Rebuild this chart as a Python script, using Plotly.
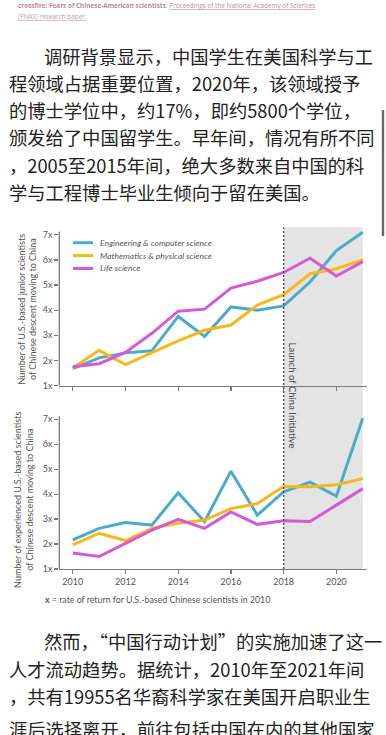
import plotly.graph_objects as go

W, H = 386, 735

years = [2010, 2011, 2012, 2013, 2014, 2015, 2016, 2017, 2018, 2019, 2020, 2021]
series_names = ["Engineering & computer science", "Mathematics & physical science", "Life science"]
series_colors = ["#4BABC9", "#F5B91E", "#D55BD5"]

junior_eng = [1.67, 2.10, 2.30, 2.38, 3.75, 2.95, 4.13, 4.00, 4.17, 5.12, 6.37, 7.10]
junior_math = [1.70, 2.40, 1.83, 2.30, 2.78, 3.20, 3.41, 4.20, 4.62, 5.45, 5.65, 6.00]
junior_life = [1.75, 1.87, 2.32, 3.08, 3.96, 4.04, 4.88, 5.15, 5.50, 6.07, 5.36, 5.93]

exp_eng = [2.17, 2.63, 2.86, 2.76, 4.05, 2.90, 4.92, 3.16, 4.09, 4.48, 3.92, 7.04]
exp_math = [1.97, 2.43, 2.14, 2.63, 2.83, 2.96, 3.42, 3.62, 4.31, 4.30, 4.38, 4.62]
exp_life = [1.64, 1.50, 2.03, 2.56, 2.99, 2.63, 3.29, 2.79, 2.93, 2.90, 3.56, 4.22]

x_tickvals = [2010, 2012, 2014, 2016, 2018, 2020]
y_tickvals = [1, 2, 3, 4, 5, 6, 7]
y_ticktext = ["1x", "2x", "3x", "4x", "5x", "6x", "7x"]

launch_year = 2018
last_year = 2021

para1 = [
    "调研背景显示，中国学生在美国科学与工",
    "程领域占据重要位置，2020年，该领域授予",
    "的博士学位中，约17%，即约5800个学位，",
    "颁发给了中国留学生。早年间，情况有所不同",
    "，2005至2015年间，绝大多数来自中国的科",
    "学与工程博士毕业生倾向于留在美国。",
]
para2 = [
    "然而，“中国行动计划”的实施加速了这一",
    "人才流动趋势。据统计，2010年至2021年间",
    "，共有19955名华裔科学家在美国开启职业生",
    "涯后选择离开，前往包括中国在内的其他国家",
]


def px(x):
    return x / W


def py(y):
    return 1 - y / H


CHART_FONT = "Lato"
CJK_FONT = "Noto Sans CJK SC"

fig = go.Figure()

top_data = [junior_eng, junior_math, junior_life]
bot_data = [exp_eng, exp_math, exp_life]
for name, col, vals in zip(series_names, series_colors, top_data):
    fig.add_trace(go.Scatter(x=years, y=vals, mode="lines", name=name,
                             line=dict(color=col, width=3), xaxis="x", yaxis="y",
                             showlegend=False, hoverinfo="skip"))
for name, col, vals in zip(series_names, series_colors, bot_data):
    fig.add_trace(go.Scatter(x=years, y=vals, mode="lines", name=name,
                             line=dict(color=col, width=3), xaxis="x2", yaxis="y2",
                             showlegend=False, hoverinfo="skip"))

x_dom = [px(59.3), px(366.7)]
x_range = [2009.49, 2021.15]
top_dom = [py(387.7), py(228)]
top_range = [1, 1 + (387.7 - 228) / 25.33]
bot_dom = [py(572.7), py(416.6)]
bot_range = [1, 1 + (572.7 - 416.6) / 25.17]

axis_col = "#7a7a7a"
tick_font = dict(family=CHART_FONT, size=9, color="#555555")

common_x = dict(domain=x_dom, range=x_range, tickvals=x_tickvals, ticks="outside",
                ticklen=4, tickcolor=axis_col, tickwidth=1.2, showline=True,
                linecolor=axis_col, linewidth=1.3, showgrid=False, zeroline=False,
                tickfont=tick_font, fixedrange=True)
common_y = dict(tickvals=y_tickvals, ticktext=y_ticktext, ticks="outside", ticklen=4,
                tickcolor=axis_col, tickwidth=1.2, showline=False, showgrid=False,
                zeroline=False, tickfont=tick_font, fixedrange=True)

fig.update_layout(
    width=W, height=H,
    margin=dict(l=0, r=0, t=0, b=0),
    paper_bgcolor="white", plot_bgcolor="rgba(0,0,0,0)",
    showlegend=False,
    xaxis=dict(anchor="y", showticklabels=False, **common_x),
    yaxis=dict(anchor="x", domain=top_dom, range=top_range, **common_y),
    xaxis2=dict(anchor="y2", showticklabels=True, **common_x),
    yaxis2=dict(anchor="x2", domain=bot_dom, range=bot_range, **common_y),
)

shapes = []
# shaded period after launch
shapes.append(dict(type="rect", xref="x", yref="paper", x0=launch_year, x1=last_year,
                   y0=py(572.7), y1=py(228), fillcolor="#e4e4e4", line=dict(width=0),
                   layer="below"))
# dotted launch line
shapes.append(dict(type="line", xref="x", yref="paper", x0=launch_year, x1=launch_year,
                   y0=py(572.7), y1=py(228), line=dict(color="#555555", width=1.5, dash="2px,2px"),
                   layer="above"))
# y axis lines
shapes.append(dict(type="line", xref="paper", yref="y", x0=px(59.3), x1=px(59.3), y0=1, y1=7.12,
                   line=dict(color=axis_col, width=1.3)))
shapes.append(dict(type="line", xref="paper", yref="y2", x0=px(59.3), x1=px(59.3), y0=1, y1=7.12,
                   line=dict(color=axis_col, width=1.3)))
# legend swatches
leg_y = [243.7, 256.7, 269.7]
for col, ly in zip(series_colors, leg_y):
    shapes.append(dict(type="line", xref="paper", yref="paper", x0=px(73), x1=px(93),
                       y0=py(ly), y1=py(ly), line=dict(color=col, width=3)))
# scrollbar of the page
shapes.append(dict(type="rect", xref="paper", yref="paper", x0=px(381.8), x1=px(384.2),
                   y0=py(237), y1=py(110), fillcolor="#666666", line=dict(width=0)))
fig.update_layout(shapes=shapes)

ann = []
for name, ly in zip(series_names, leg_y):
    ann.append(dict(xref="paper", yref="paper", x=px(98), y=py(ly), xanchor="left",
                    yanchor="middle", showarrow=False, text="<i>" + name + "</i>",
                    font=dict(family=CHART_FONT, size=8.5, color="#555555")))

ann.append(dict(xref="paper", yref="paper", x=px(27), y=py(311), xanchor="center",
                yanchor="middle", showarrow=False, textangle=-90,
                text="Number of U.S.-based junior scientists<br>of Chinese descent moving to China",
                font=dict(family=CHART_FONT, size=9, color="#555555")))
ann.append(dict(xref="paper", yref="paper", x=px(24), y=py(503), xanchor="center",
                yanchor="middle", showarrow=False, textangle=-90,
                text="Number of experienced U.S.-based scientists<br>of Chinese descent moving to China",
                font=dict(family=CHART_FONT, size=9, color="#555555")))
ann.append(dict(xref="x", yref="paper", x=launch_year, y=py(398), xanchor="left",
                yanchor="middle", xshift=1, showarrow=False, textangle=90,
                text="Launch of China Initiative",
                font=dict(family=CHART_FONT, size=9.5, color="#444444")))
ann.append(dict(xref="paper", yref="paper", x=px(43), y=py(603), xanchor="left",
                yanchor="middle", showarrow=False,
                text="<b>x</b> = rate of return for U.S.-based Chinese scientists in 2010",
                font=dict(family=CHART_FONT, size=8.8, color="#555555")))

# header citation
ann.append(dict(xref="paper", yref="paper", x=px(16), y=py(5), xanchor="left", yanchor="middle",
                showarrow=False,
                text="<b>crossfire: Fears of Chinese-American scientists.</b> "
                     "<u>Proceedings of the National Academy of Sciences</u>",
                font=dict(family="Open Sans", size=6.4, color="#c18b96")))
ann.append(dict(xref="paper", yref="paper", x=px(16), y=py(15.5), xanchor="left", yanchor="middle",
                showarrow=False, text="<u>(PNAS) research paper.</u>",
                font=dict(family="Open Sans", size=6.4, color="#c79aa3")))

txt_font = dict(family=CJK_FONT, size=18.3, color="#222222")
for i, line in enumerate(para1):
    xx = 41.7 if i == 0 else 6.5
    ann.append(dict(xref="paper", yref="paper", x=px(xx), y=py(55.5 + 27.35 * i),
                    xanchor="left", yanchor="middle", showarrow=False, text=line, font=txt_font))
para2_y = [645.5, 673, 700.5, 734]
for i, line in enumerate(para2):
    xx = 41.7 if i == 0 else 6.5
    ann.append(dict(xref="paper", yref="paper", x=px(xx), y=py(para2_y[i]),
                    xanchor="left", yanchor="middle", showarrow=False, text=line, font=txt_font))

fig.update_layout(annotations=ann)

fig.write_html("out.html", config=dict(displayModeBar=False, staticPlot=True),
               post_script="document.body.style.margin='0';document.body.style.overflow='hidden';")
